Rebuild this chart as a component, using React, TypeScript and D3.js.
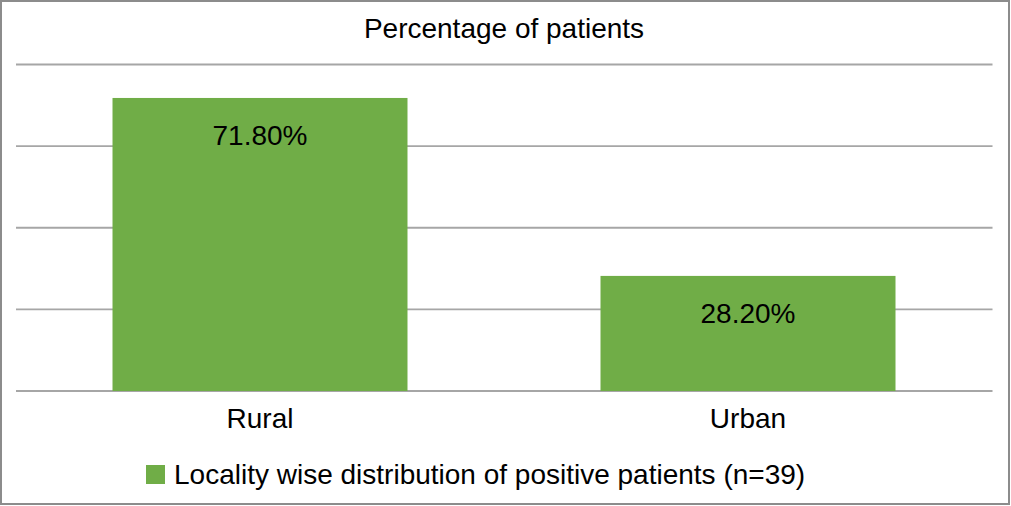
import React from "react";
import * as d3 from "d3";

const categories = ["Rural", "Urban"];
const values = [71.8, 28.2];
const valueLabels = ["71.80%", "28.20%"];
const yTicks = [0, 20, 40, 60, 80];
const title = "Percentage of patients";
const legendLabel = "Locality wise distribution of positive patients (n=39)";

const W = 1011;
const H = 506;
const FONT = "'Liberation Sans', Arial, sans-serif";
const GREEN = "#70ad47";
const GRID = "#a6a6a6";

export default function App() {
  const x = d3
    .scaleBand<string>()
    .domain(categories)
    .range([16, 992])
    .paddingInner(0.3955)
    .paddingOuter(0.3955 / 2);
  const y = d3.scaleLinear().domain([0, 80]).range([391, 64.5]);

  return (
    <svg
      width={W}
      height={H}
      style={{ position: "absolute", left: 0, top: 0, background: "#fff" }}
      fontFamily={FONT}
    >
      <rect x={0} y={0} width={W} height={H} fill="#fff" />
      {yTicks.map((t) => (
        <line
          key={t}
          x1={16}
          x2={992.5}
          y1={y(t)}
          y2={y(t)}
          stroke={GRID}
          strokeWidth={1.8}
        />
      ))}
      {categories.map((c, i) => (
        <rect
          key={c}
          x={x(c)}
          y={y(values[i])}
          width={x.bandwidth()}
          height={y(0) - y(values[i])}
          fill={GREEN}
        />
      ))}
      {categories.map((c, i) => (
        <text
          key={c + "v"}
          x={(x(c) as number) + x.bandwidth() / 2}
          y={y(values[i]) + 47}
          textAnchor="middle"
          fontSize={28}
          fill="#000"
        >
          {valueLabels[i]}
        </text>
      ))}
      {categories.map((c) => (
        <text
          key={c + "c"}
          x={(x(c) as number) + x.bandwidth() / 2}
          y={428.3}
          textAnchor="middle"
          fontSize={28}
          fill="#000"
        >
          {c}
        </text>
      ))}
      <text x={504} y={38} textAnchor="middle" fontSize={28} fill="#000">
        {title}
      </text>
      <rect x={146} y={465} width={19} height={19} fill={GREEN} />
      <text x={174} y={483.5} fontSize={28} fill="#000">
        {legendLabel}
      </text>
      <rect
        x={1}
        y={1}
        width={1008}
        height={503}
        fill="none"
        stroke="#8c8c8c"
        strokeWidth={2}
      />
    </svg>
  );
}
